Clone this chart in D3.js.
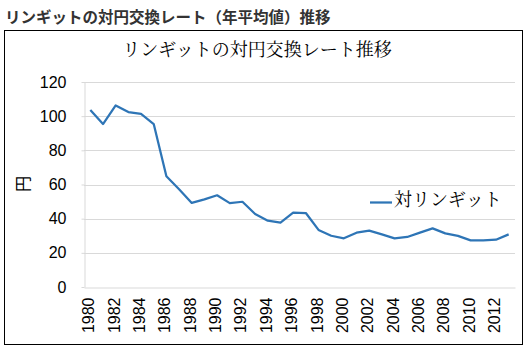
<!DOCTYPE html>
<html><head><meta charset="utf-8">
<script src="https://cdn.jsdelivr.net/npm/d3@7"></script>
<style>body{margin:0;background:#fff;} svg{display:block;}</style>
</head><body>
<svg id="c" width="531" height="359"></svg>
<script>
const years = d3.range(1980, 2014).map(String);
const rates = [103.6, 95.4, 106.3, 102.4, 101.3, 95.4, 64.8, 57.2, 49.2, 51.3,
  53.7, 49.1, 49.9, 42.7, 38.8, 37.7, 43.5, 43.3, 33.4, 30.0,
  28.5, 31.8, 33.0, 30.8, 28.5, 29.3, 31.8, 34.3, 31.4, 29.9,
  27.3, 27.3, 27.7, 30.8];
const yTicks = [0, 20, 40, 60, 80, 100, 120];
const pageTitle = "リンギットの対円交換レート（年平均値）推移";
const chartTitle = "リンギットの対円交換レート推移";
const seriesName = "対リンギット";
const yTitle = "円";

const svg = d3.select("#c");
const serif = "'Noto Serif CJK JP','Noto Serif JP',serif";
const sans = "'Noto Sans CJK JP','Noto Sans',sans-serif";
const num = "'Liberation Sans',sans-serif";

svg.append("text").attr("x", 5).attr("y", 23)
  .attr("font-family", sans).attr("font-weight", "bold").attr("font-size", 15.5)
  .attr("fill", "#333").text(pageTitle);

svg.append("rect").attr("x", 4.5).attr("y", 30.5).attr("width", 518).attr("height", 314)
  .attr("fill", "none").attr("stroke", "#000").attr("stroke-width", 1);

svg.append("text").attr("x", 257).attr("y", 56).attr("text-anchor", "middle")
  .attr("font-family", serif).attr("font-size", 18).attr("fill", "#000").text(chartTitle);

const L = 84, R = 515, T = 82, B = 287;
const x = d3.scaleBand().domain(years).range([L, R]);
const y = d3.scaleLinear().domain([0, 120]).range([B, T]);

// gridlines
svg.append("g").selectAll("line").data(yTicks.filter(d => d > 0)).join("line")
  .attr("x1", L).attr("x2", R).attr("y1", d => Math.round(y(d)) + 0.5).attr("y2", d => Math.round(y(d)) + 0.5)
  .attr("stroke", "#d9d9d9").attr("stroke-width", 1);

// y axis
const ya = svg.append("g").attr("transform", `translate(${L + 0.5},0)`)
  .call(d3.axisLeft(y).tickValues(yTicks).tickSize(3).tickSizeOuter(0).tickPadding(15));
ya.select(".domain").attr("stroke", "#d9d9d9");
ya.selectAll(".tick line").attr("stroke", "#d9d9d9");
ya.selectAll("text").attr("font-family", num).attr("font-size", 16).attr("fill", "#000");

// x axis
const xa = svg.append("g").attr("transform", `translate(0,${B + 0.5})`)
  .call(d3.axisBottom(x).tickValues(years.filter((d, i) => i % 2 === 0)).tickSize(0).tickSizeOuter(0));
xa.select(".domain").attr("stroke", "#d9d9d9");
xa.selectAll("text")
  .attr("font-family", num).attr("font-size", 16).attr("fill", "#000")
  .attr("transform", "rotate(-90)").attr("text-anchor", "end")
  .attr("x", -10).attr("y", 0).attr("dy", "0.25em");

// y title
svg.append("text").attr("transform", "translate(23,184) rotate(-90)")
  .attr("text-anchor", "middle").attr("dy", "0.35em")
  .attr("font-family", sans).attr("font-size", 16).attr("fill", "#000").text(yTitle);

// line
const line = d3.line().x((d, i) => x(years[i]) + x.bandwidth() / 2).y(d => y(d));
svg.append("path").datum(rates).attr("d", line)
  .attr("fill", "none").attr("stroke", "#2e75b6").attr("stroke-width", 2.25).attr("stroke-linejoin", "round");

// legend
svg.append("line").attr("x1", 370).attr("x2", 392).attr("y1", 202.5).attr("y2", 202.5)
  .attr("stroke", "#2e75b6").attr("stroke-width", 2.25);
svg.append("text").attr("x", 394).attr("y", 200).attr("dy", "0.35em")
  .attr("font-family", serif).attr("font-size", 18).attr("fill", "#000").text(seriesName);
</script>
</body></html>
